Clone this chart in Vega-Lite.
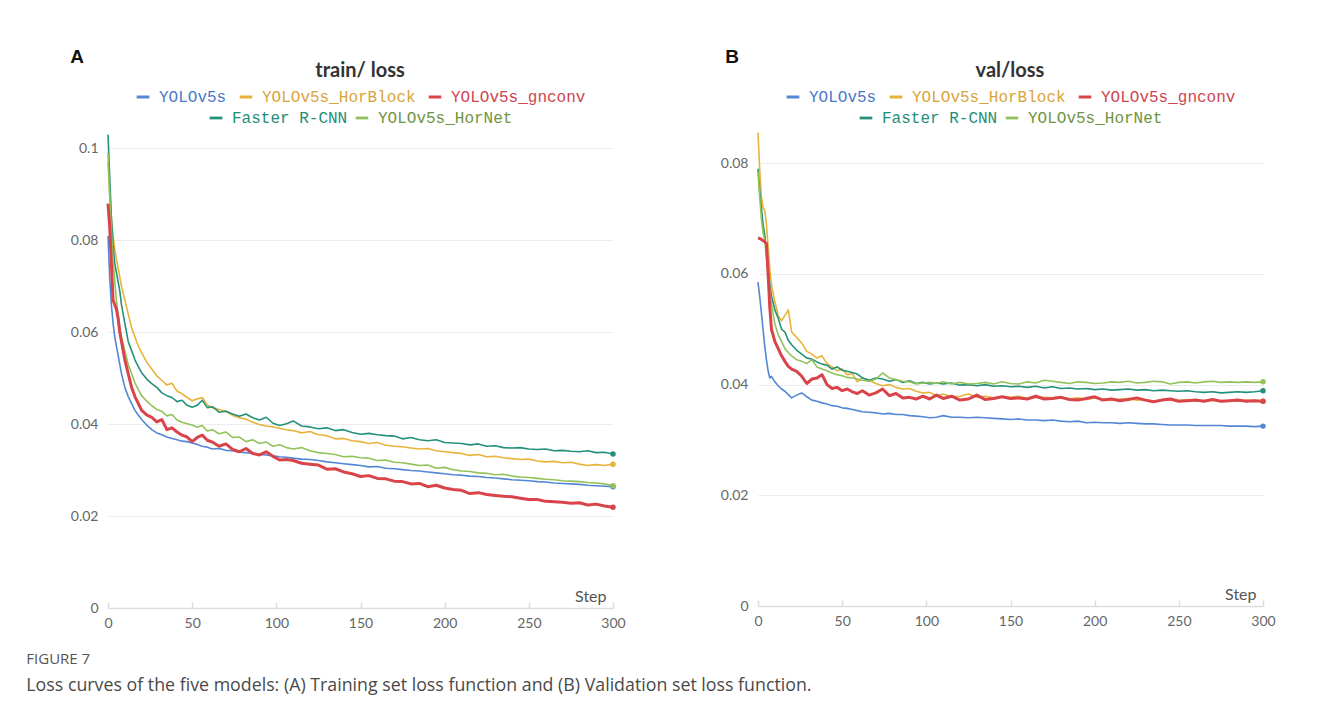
{
  "$schema": "https://vega.github.io/schema/vega-lite/v6.json",
  "background": "white",
  "padding": {"left": 26, "top": 48, "right": 5, "bottom": 5},
  "datasets": {
    "train": [
      {"step":0,"YOLOv5s":0.081,"YOLOv5s_HorBlock":0.097,"YOLOv5s_gnconv":0.088,"Faster R-CNN":0.103,"YOLOv5s_HorNet":0.099},
      {"step":1,"YOLOv5s":0.072,"YOLOv5s_HorBlock":0.09,"YOLOv5s_gnconv":0.083,"Faster R-CNN":0.094,"YOLOv5s_HorNet":0.09},
      {"step":2,"YOLOv5s":0.066,"YOLOv5s_HorBlock":0.085,"YOLOv5s_gnconv":0.075,"Faster R-CNN":0.085,"YOLOv5s_HorNet":0.082},
      {"step":3,"YOLOv5s":0.062,"YOLOv5s_HorBlock":0.081,"YOLOv5s_gnconv":0.067,"Faster R-CNN":0.079,"YOLOv5s_HorNet":0.076},
      {"step":4,"YOLOv5s":0.059,"YOLOv5s_HorBlock":0.078,"YOLOv5s_gnconv":0.066,"Faster R-CNN":0.075,"YOLOv5s_HorNet":0.071},
      {"step":5,"YOLOv5s":0.057,"YOLOv5s_HorBlock":0.076,"YOLOv5s_gnconv":0.065,"Faster R-CNN":0.073,"YOLOv5s_HorNet":0.067},
      {"step":6,"YOLOv5s":0.055,"YOLOv5s_HorBlock":0.074,"YOLOv5s_gnconv":0.063,"Faster R-CNN":0.071,"YOLOv5s_HorNet":0.064},
      {"step":7,"YOLOv5s":0.053,"YOLOv5s_HorBlock":0.072,"YOLOv5s_gnconv":0.06,"Faster R-CNN":0.069,"YOLOv5s_HorNet":0.061},
      {"step":8,"YOLOv5s":0.051,"YOLOv5s_HorBlock":0.07,"YOLOv5s_gnconv":0.058,"Faster R-CNN":0.066,"YOLOv5s_HorNet":0.059},
      {"step":10,"YOLOv5s":0.048,"YOLOv5s_HorBlock":0.067,"YOLOv5s_gnconv":0.054,"Faster R-CNN":0.062,"YOLOv5s_HorNet":0.056},
      {"step":12,"YOLOv5s":0.046,"YOLOv5s_HorBlock":0.064,"YOLOv5s_gnconv":0.051,"Faster R-CNN":0.058,"YOLOv5s_HorNet":0.053},
      {"step":14,"YOLOv5s":0.0445,"YOLOv5s_HorBlock":0.061,"YOLOv5s_gnconv":0.048,"Faster R-CNN":0.056,"YOLOv5s_HorNet":0.051},
      {"step":16,"YOLOv5s":0.043,"YOLOv5s_HorBlock":0.059,"YOLOv5s_gnconv":0.046,"Faster R-CNN":0.054,"YOLOv5s_HorNet":0.049},
      {"step":18,"YOLOv5s":0.042,"YOLOv5s_HorBlock":0.057,"YOLOv5s_gnconv":0.0445,"Faster R-CNN":0.0525,"YOLOv5s_HorNet":0.0475},
      {"step":20,"YOLOv5s":0.041,"YOLOv5s_HorBlock":0.0555,"YOLOv5s_gnconv":0.043,"Faster R-CNN":0.0512,"YOLOv5s_HorNet":0.0462},
      {"step":23,"YOLOv5s":0.0398,"YOLOv5s_HorBlock":0.0535,"YOLOv5s_gnconv":0.042,"Faster R-CNN":0.0498,"YOLOv5s_HorNet":0.045},
      {"step":26,"YOLOv5s":0.0388,"YOLOv5s_HorBlock":0.052,"YOLOv5s_gnconv":0.0415,"Faster R-CNN":0.0488,"YOLOv5s_HorNet":0.044},
      {"step":29,"YOLOv5s":0.0381,"YOLOv5s_HorBlock":0.0505,"YOLOv5s_gnconv":0.0405,"Faster R-CNN":0.048,"YOLOv5s_HorNet":0.0432},
      {"step":32,"YOLOv5s":0.0377,"YOLOv5s_HorBlock":0.0495,"YOLOv5s_gnconv":0.041,"Faster R-CNN":0.0468,"YOLOv5s_HorNet":0.0428},
      {"step":35,"YOLOv5s":0.0372,"YOLOv5s_HorBlock":0.0485,"YOLOv5s_gnconv":0.0388,"Faster R-CNN":0.0462,"YOLOv5s_HorNet":0.0418},
      {"step":38,"YOLOv5s":0.0369,"YOLOv5s_HorBlock":0.0489,"YOLOv5s_gnconv":0.0392,"Faster R-CNN":0.0458,"YOLOv5s_HorNet":0.0421},
      {"step":41,"YOLOv5s":0.0366,"YOLOv5s_HorBlock":0.0472,"YOLOv5s_gnconv":0.0383,"Faster R-CNN":0.0449,"YOLOv5s_HorNet":0.0409},
      {"step":44,"YOLOv5s":0.0363,"YOLOv5s_HorBlock":0.0466,"YOLOv5s_gnconv":0.0376,"Faster R-CNN":0.0452,"YOLOv5s_HorNet":0.0404},
      {"step":47,"YOLOv5s":0.0362,"YOLOv5s_HorBlock":0.0458,"YOLOv5s_gnconv":0.0372,"Faster R-CNN":0.0441,"YOLOv5s_HorNet":0.0401},
      {"step":50,"YOLOv5s":0.0359,"YOLOv5s_HorBlock":0.0451,"YOLOv5s_gnconv":0.0362,"Faster R-CNN":0.0437,"YOLOv5s_HorNet":0.0398},
      {"step":53,"YOLOv5s":0.0356,"YOLOv5s_HorBlock":0.0455,"YOLOv5s_gnconv":0.0371,"Faster R-CNN":0.0441,"YOLOv5s_HorNet":0.0393},
      {"step":56,"YOLOv5s":0.0352,"YOLOv5s_HorBlock":0.0458,"YOLOv5s_gnconv":0.0376,"Faster R-CNN":0.0452,"YOLOv5s_HorNet":0.0397},
      {"step":59,"YOLOv5s":0.035,"YOLOv5s_HorBlock":0.0442,"YOLOv5s_gnconv":0.0365,"Faster R-CNN":0.0436,"YOLOv5s_HorNet":0.0385},
      {"step":62,"YOLOv5s":0.0346,"YOLOv5s_HorBlock":0.0436,"YOLOv5s_gnconv":0.0361,"Faster R-CNN":0.0438,"YOLOv5s_HorNet":0.0388},
      {"step":66,"YOLOv5s":0.0347,"YOLOv5s_HorBlock":0.0432,"YOLOv5s_gnconv":0.0352,"Faster R-CNN":0.0426,"YOLOv5s_HorNet":0.0379},
      {"step":70,"YOLOv5s":0.0343,"YOLOv5s_HorBlock":0.0428,"YOLOv5s_gnconv":0.0357,"Faster R-CNN":0.0428,"YOLOv5s_HorNet":0.0383},
      {"step":74,"YOLOv5s":0.0342,"YOLOv5s_HorBlock":0.0419,"YOLOv5s_gnconv":0.0345,"Faster R-CNN":0.0422,"YOLOv5s_HorNet":0.0371},
      {"step":78,"YOLOv5s":0.0339,"YOLOv5s_HorBlock":0.0414,"YOLOv5s_gnconv":0.034,"Faster R-CNN":0.0417,"YOLOv5s_HorNet":0.0372},
      {"step":82,"YOLOv5s":0.0338,"YOLOv5s_HorBlock":0.0411,"YOLOv5s_gnconv":0.0347,"Faster R-CNN":0.0422,"YOLOv5s_HorNet":0.0362},
      {"step":86,"YOLOv5s":0.0336,"YOLOv5s_HorBlock":0.0404,"YOLOv5s_gnconv":0.0336,"Faster R-CNN":0.0414,"YOLOv5s_HorNet":0.0366},
      {"step":90,"YOLOv5s":0.0334,"YOLOv5s_HorBlock":0.0399,"YOLOv5s_gnconv":0.0333,"Faster R-CNN":0.0409,"YOLOv5s_HorNet":0.0358},
      {"step":94,"YOLOv5s":0.0333,"YOLOv5s_HorBlock":0.0396,"YOLOv5s_gnconv":0.034,"Faster R-CNN":0.0415,"YOLOv5s_HorNet":0.0361},
      {"step":98,"YOLOv5s":0.0331,"YOLOv5s_HorBlock":0.0394,"YOLOv5s_gnconv":0.033,"Faster R-CNN":0.0402,"YOLOv5s_HorNet":0.0352},
      {"step":102,"YOLOv5s":0.0329,"YOLOv5s_HorBlock":0.0391,"YOLOv5s_gnconv":0.0322,"Faster R-CNN":0.0397,"YOLOv5s_HorNet":0.0355},
      {"step":106,"YOLOv5s":0.0328,"YOLOv5s_HorBlock":0.0388,"YOLOv5s_gnconv":0.0323,"Faster R-CNN":0.0401,"YOLOv5s_HorNet":0.0349},
      {"step":110,"YOLOv5s":0.0326,"YOLOv5s_HorBlock":0.0386,"YOLOv5s_gnconv":0.0321,"Faster R-CNN":0.0407,"YOLOv5s_HorNet":0.0346},
      {"step":115,"YOLOv5s":0.0324,"YOLOv5s_HorBlock":0.0381,"YOLOv5s_gnconv":0.0315,"Faster R-CNN":0.0396,"YOLOv5s_HorNet":0.0349},
      {"step":120,"YOLOv5s":0.0323,"YOLOv5s_HorBlock":0.0384,"YOLOv5s_gnconv":0.0313,"Faster R-CNN":0.0394,"YOLOv5s_HorNet":0.0342},
      {"step":125,"YOLOv5s":0.0321,"YOLOv5s_HorBlock":0.0377,"YOLOv5s_gnconv":0.0311,"Faster R-CNN":0.039,"YOLOv5s_HorNet":0.0338},
      {"step":130,"YOLOv5s":0.0318,"YOLOv5s_HorBlock":0.0375,"YOLOv5s_gnconv":0.0302,"Faster R-CNN":0.0392,"YOLOv5s_HorNet":0.0336},
      {"step":135,"YOLOv5s":0.0316,"YOLOv5s_HorBlock":0.0368,"YOLOv5s_gnconv":0.0303,"Faster R-CNN":0.0386,"YOLOv5s_HorNet":0.0334},
      {"step":140,"YOLOv5s":0.0314,"YOLOv5s_HorBlock":0.0369,"YOLOv5s_gnconv":0.0296,"Faster R-CNN":0.0388,"YOLOv5s_HorNet":0.0329},
      {"step":145,"YOLOv5s":0.0312,"YOLOv5s_HorBlock":0.0364,"YOLOv5s_gnconv":0.0292,"Faster R-CNN":0.0382,"YOLOv5s_HorNet":0.033},
      {"step":150,"YOLOv5s":0.031,"YOLOv5s_HorBlock":0.0362,"YOLOv5s_gnconv":0.0286,"Faster R-CNN":0.0378,"YOLOv5s_HorNet":0.0327},
      {"step":155,"YOLOv5s":0.0307,"YOLOv5s_HorBlock":0.0358,"YOLOv5s_gnconv":0.0288,"Faster R-CNN":0.038,"YOLOv5s_HorNet":0.0326},
      {"step":160,"YOLOv5s":0.0308,"YOLOv5s_HorBlock":0.036,"YOLOv5s_gnconv":0.0282,"Faster R-CNN":0.0377,"YOLOv5s_HorNet":0.0321},
      {"step":165,"YOLOv5s":0.0304,"YOLOv5s_HorBlock":0.0354,"YOLOv5s_gnconv":0.0281,"Faster R-CNN":0.0375,"YOLOv5s_HorNet":0.0322},
      {"step":170,"YOLOv5s":0.0303,"YOLOv5s_HorBlock":0.0352,"YOLOv5s_gnconv":0.0276,"Faster R-CNN":0.0374,"YOLOv5s_HorNet":0.0317},
      {"step":175,"YOLOv5s":0.0301,"YOLOv5s_HorBlock":0.0351,"YOLOv5s_gnconv":0.0275,"Faster R-CNN":0.0368,"YOLOv5s_HorNet":0.0316},
      {"step":180,"YOLOv5s":0.0299,"YOLOv5s_HorBlock":0.0348,"YOLOv5s_gnconv":0.027,"Faster R-CNN":0.0371,"YOLOv5s_HorNet":0.0313},
      {"step":185,"YOLOv5s":0.0298,"YOLOv5s_HorBlock":0.0346,"YOLOv5s_gnconv":0.0271,"Faster R-CNN":0.0366,"YOLOv5s_HorNet":0.031},
      {"step":190,"YOLOv5s":0.0296,"YOLOv5s_HorBlock":0.0347,"YOLOv5s_gnconv":0.0264,"Faster R-CNN":0.0364,"YOLOv5s_HorNet":0.0311},
      {"step":195,"YOLOv5s":0.0294,"YOLOv5s_HorBlock":0.0342,"YOLOv5s_gnconv":0.0267,"Faster R-CNN":0.0366,"YOLOv5s_HorNet":0.0304},
      {"step":200,"YOLOv5s":0.0292,"YOLOv5s_HorBlock":0.034,"YOLOv5s_gnconv":0.0261,"Faster R-CNN":0.036,"YOLOv5s_HorNet":0.0306},
      {"step":205,"YOLOv5s":0.029,"YOLOv5s_HorBlock":0.0338,"YOLOv5s_gnconv":0.0258,"Faster R-CNN":0.0359,"YOLOv5s_HorNet":0.0301},
      {"step":210,"YOLOv5s":0.0289,"YOLOv5s_HorBlock":0.0336,"YOLOv5s_gnconv":0.0256,"Faster R-CNN":0.0358,"YOLOv5s_HorNet":0.0298},
      {"step":215,"YOLOv5s":0.0287,"YOLOv5s_HorBlock":0.0332,"YOLOv5s_gnconv":0.0249,"Faster R-CNN":0.0355,"YOLOv5s_HorNet":0.0297},
      {"step":220,"YOLOv5s":0.0286,"YOLOv5s_HorBlock":0.0334,"YOLOv5s_gnconv":0.0251,"Faster R-CNN":0.0357,"YOLOv5s_HorNet":0.0294},
      {"step":225,"YOLOv5s":0.0284,"YOLOv5s_HorBlock":0.0329,"YOLOv5s_gnconv":0.0247,"Faster R-CNN":0.0352,"YOLOv5s_HorNet":0.0293},
      {"step":230,"YOLOv5s":0.0283,"YOLOv5s_HorBlock":0.033,"YOLOv5s_gnconv":0.0245,"Faster R-CNN":0.0353,"YOLOv5s_HorNet":0.029},
      {"step":235,"YOLOv5s":0.0281,"YOLOv5s_HorBlock":0.0327,"YOLOv5s_gnconv":0.0243,"Faster R-CNN":0.0349,"YOLOv5s_HorNet":0.0291},
      {"step":240,"YOLOv5s":0.0279,"YOLOv5s_HorBlock":0.0325,"YOLOv5s_gnconv":0.0242,"Faster R-CNN":0.0348,"YOLOv5s_HorNet":0.0287},
      {"step":245,"YOLOv5s":0.0278,"YOLOv5s_HorBlock":0.0323,"YOLOv5s_gnconv":0.0239,"Faster R-CNN":0.0349,"YOLOv5s_HorNet":0.0285},
      {"step":250,"YOLOv5s":0.0277,"YOLOv5s_HorBlock":0.0324,"YOLOv5s_gnconv":0.0236,"Faster R-CNN":0.0346,"YOLOv5s_HorNet":0.0284},
      {"step":255,"YOLOv5s":0.0275,"YOLOv5s_HorBlock":0.032,"YOLOv5s_gnconv":0.0236,"Faster R-CNN":0.0345,"YOLOv5s_HorNet":0.0282},
      {"step":260,"YOLOv5s":0.0274,"YOLOv5s_HorBlock":0.0318,"YOLOv5s_gnconv":0.0232,"Faster R-CNN":0.0346,"YOLOv5s_HorNet":0.028},
      {"step":265,"YOLOv5s":0.0272,"YOLOv5s_HorBlock":0.0319,"YOLOv5s_gnconv":0.0231,"Faster R-CNN":0.0342,"YOLOv5s_HorNet":0.0279},
      {"step":270,"YOLOv5s":0.0271,"YOLOv5s_HorBlock":0.0316,"YOLOv5s_gnconv":0.023,"Faster R-CNN":0.0343,"YOLOv5s_HorNet":0.0277},
      {"step":275,"YOLOv5s":0.027,"YOLOv5s_HorBlock":0.0317,"YOLOv5s_gnconv":0.0228,"Faster R-CNN":0.0341,"YOLOv5s_HorNet":0.0276},
      {"step":280,"YOLOv5s":0.0269,"YOLOv5s_HorBlock":0.0313,"YOLOv5s_gnconv":0.0229,"Faster R-CNN":0.034,"YOLOv5s_HorNet":0.0275},
      {"step":285,"YOLOv5s":0.0267,"YOLOv5s_HorBlock":0.031,"YOLOv5s_gnconv":0.0224,"Faster R-CNN":0.0342,"YOLOv5s_HorNet":0.0273},
      {"step":290,"YOLOv5s":0.0266,"YOLOv5s_HorBlock":0.0312,"YOLOv5s_gnconv":0.0226,"Faster R-CNN":0.0338,"YOLOv5s_HorNet":0.0272},
      {"step":295,"YOLOv5s":0.0265,"YOLOv5s_HorBlock":0.031,"YOLOv5s_gnconv":0.0222,"Faster R-CNN":0.0339,"YOLOv5s_HorNet":0.027},
      {"step":300,"YOLOv5s":0.0264,"YOLOv5s_HorBlock":0.0313,"YOLOv5s_gnconv":0.0219,"Faster R-CNN":0.0335,"YOLOv5s_HorNet":0.0266}
    ],
    "val": [
      {"step":0,"YOLOv5s":0.0585,"YOLOv5s_HorBlock":0.0855,"YOLOv5s_gnconv":0.0665,"Faster R-CNN":0.079,"YOLOv5s_HorNet":0.0785},
      {"step":1,"YOLOv5s":0.056,"YOLOv5s_HorBlock":0.079,"YOLOv5s_gnconv":0.0664,"Faster R-CNN":0.075,"YOLOv5s_HorNet":0.074},
      {"step":2,"YOLOv5s":0.053,"YOLOv5s_HorBlock":0.074,"YOLOv5s_gnconv":0.0662,"Faster R-CNN":0.072,"YOLOv5s_HorNet":0.07},
      {"step":3,"YOLOv5s":0.05,"YOLOv5s_HorBlock":0.072,"YOLOv5s_gnconv":0.066,"Faster R-CNN":0.069,"YOLOv5s_HorNet":0.0675},
      {"step":4,"YOLOv5s":0.047,"YOLOv5s_HorBlock":0.0715,"YOLOv5s_gnconv":0.0658,"Faster R-CNN":0.067,"YOLOv5s_HorNet":0.066},
      {"step":5,"YOLOv5s":0.0445,"YOLOv5s_HorBlock":0.069,"YOLOv5s_gnconv":0.0655,"Faster R-CNN":0.064,"YOLOv5s_HorNet":0.063},
      {"step":6,"YOLOv5s":0.0425,"YOLOv5s_HorBlock":0.065,"YOLOv5s_gnconv":0.06,"Faster R-CNN":0.061,"YOLOv5s_HorNet":0.06},
      {"step":7,"YOLOv5s":0.0412,"YOLOv5s_HorBlock":0.061,"YOLOv5s_gnconv":0.054,"Faster R-CNN":0.058,"YOLOv5s_HorNet":0.057},
      {"step":8,"YOLOv5s":0.0415,"YOLOv5s_HorBlock":0.058,"YOLOv5s_gnconv":0.05,"Faster R-CNN":0.056,"YOLOv5s_HorNet":0.0545},
      {"step":10,"YOLOv5s":0.0405,"YOLOv5s_HorBlock":0.055,"YOLOv5s_gnconv":0.0478,"Faster R-CNN":0.0535,"YOLOv5s_HorNet":0.051},
      {"step":12,"YOLOv5s":0.0398,"YOLOv5s_HorBlock":0.0525,"YOLOv5s_gnconv":0.0465,"Faster R-CNN":0.052,"YOLOv5s_HorNet":0.049},
      {"step":14,"YOLOv5s":0.0392,"YOLOv5s_HorBlock":0.0515,"YOLOv5s_gnconv":0.0452,"Faster R-CNN":0.05,"YOLOv5s_HorNet":0.0478},
      {"step":16,"YOLOv5s":0.0388,"YOLOv5s_HorBlock":0.0525,"YOLOv5s_gnconv":0.0442,"Faster R-CNN":0.0495,"YOLOv5s_HorNet":0.0465},
      {"step":18,"YOLOv5s":0.0382,"YOLOv5s_HorBlock":0.0535,"YOLOv5s_gnconv":0.0433,"Faster R-CNN":0.048,"YOLOv5s_HorNet":0.0458},
      {"step":20,"YOLOv5s":0.0376,"YOLOv5s_HorBlock":0.0495,"YOLOv5s_gnconv":0.0428,"Faster R-CNN":0.0472,"YOLOv5s_HorNet":0.0452},
      {"step":23,"YOLOv5s":0.0381,"YOLOv5s_HorBlock":0.0485,"YOLOv5s_gnconv":0.0424,"Faster R-CNN":0.0462,"YOLOv5s_HorNet":0.0445},
      {"step":26,"YOLOv5s":0.0385,"YOLOv5s_HorBlock":0.0475,"YOLOv5s_gnconv":0.0415,"Faster R-CNN":0.0455,"YOLOv5s_HorNet":0.0442},
      {"step":29,"YOLOv5s":0.0378,"YOLOv5s_HorBlock":0.046,"YOLOv5s_gnconv":0.0402,"Faster R-CNN":0.0448,"YOLOv5s_HorNet":0.0438},
      {"step":32,"YOLOv5s":0.0372,"YOLOv5s_HorBlock":0.0455,"YOLOv5s_gnconv":0.041,"Faster R-CNN":0.0446,"YOLOv5s_HorNet":0.0445},
      {"step":35,"YOLOv5s":0.037,"YOLOv5s_HorBlock":0.0448,"YOLOv5s_gnconv":0.0412,"Faster R-CNN":0.0441,"YOLOv5s_HorNet":0.0432},
      {"step":38,"YOLOv5s":0.0367,"YOLOv5s_HorBlock":0.0452,"YOLOv5s_gnconv":0.0418,"Faster R-CNN":0.0437,"YOLOv5s_HorNet":0.0428},
      {"step":41,"YOLOv5s":0.0365,"YOLOv5s_HorBlock":0.0438,"YOLOv5s_gnconv":0.04,"Faster R-CNN":0.0435,"YOLOv5s_HorNet":0.0425},
      {"step":44,"YOLOv5s":0.0362,"YOLOv5s_HorBlock":0.0432,"YOLOv5s_gnconv":0.0393,"Faster R-CNN":0.0428,"YOLOv5s_HorNet":0.0421},
      {"step":47,"YOLOv5s":0.0361,"YOLOv5s_HorBlock":0.0425,"YOLOv5s_gnconv":0.0395,"Faster R-CNN":0.0432,"YOLOv5s_HorNet":0.0418},
      {"step":50,"YOLOv5s":0.0358,"YOLOv5s_HorBlock":0.0428,"YOLOv5s_gnconv":0.0389,"Faster R-CNN":0.0426,"YOLOv5s_HorNet":0.0416},
      {"step":53,"YOLOv5s":0.0357,"YOLOv5s_HorBlock":0.0418,"YOLOv5s_gnconv":0.0392,"Faster R-CNN":0.0424,"YOLOv5s_HorNet":0.0413},
      {"step":56,"YOLOv5s":0.0355,"YOLOv5s_HorBlock":0.042,"YOLOv5s_gnconv":0.0387,"Faster R-CNN":0.0422,"YOLOv5s_HorNet":0.0412},
      {"step":59,"YOLOv5s":0.0353,"YOLOv5s_HorBlock":0.0405,"YOLOv5s_gnconv":0.0384,"Faster R-CNN":0.0419,"YOLOv5s_HorNet":0.041},
      {"step":62,"YOLOv5s":0.0351,"YOLOv5s_HorBlock":0.0412,"YOLOv5s_gnconv":0.0389,"Faster R-CNN":0.0412,"YOLOv5s_HorNet":0.0408},
      {"step":66,"YOLOv5s":0.035,"YOLOv5s_HorBlock":0.0408,"YOLOv5s_gnconv":0.0381,"Faster R-CNN":0.0408,"YOLOv5s_HorNet":0.0406},
      {"step":70,"YOLOv5s":0.0349,"YOLOv5s_HorBlock":0.0402,"YOLOv5s_gnconv":0.0385,"Faster R-CNN":0.0412,"YOLOv5s_HorNet":0.041},
      {"step":74,"YOLOv5s":0.0347,"YOLOv5s_HorBlock":0.0398,"YOLOv5s_gnconv":0.0392,"Faster R-CNN":0.041,"YOLOv5s_HorNet":0.0421},
      {"step":78,"YOLOv5s":0.0348,"YOLOv5s_HorBlock":0.04,"YOLOv5s_gnconv":0.038,"Faster R-CNN":0.0406,"YOLOv5s_HorNet":0.0412},
      {"step":82,"YOLOv5s":0.0346,"YOLOv5s_HorBlock":0.0395,"YOLOv5s_gnconv":0.0384,"Faster R-CNN":0.0409,"YOLOv5s_HorNet":0.0409},
      {"step":86,"YOLOv5s":0.0346,"YOLOv5s_HorBlock":0.0392,"YOLOv5s_gnconv":0.0376,"Faster R-CNN":0.0404,"YOLOv5s_HorNet":0.0406},
      {"step":90,"YOLOv5s":0.0344,"YOLOv5s_HorBlock":0.0393,"YOLOv5s_gnconv":0.0377,"Faster R-CNN":0.0407,"YOLOv5s_HorNet":0.0405},
      {"step":94,"YOLOv5s":0.0343,"YOLOv5s_HorBlock":0.0388,"YOLOv5s_gnconv":0.0374,"Faster R-CNN":0.0402,"YOLOv5s_HorNet":0.0401},
      {"step":98,"YOLOv5s":0.0342,"YOLOv5s_HorBlock":0.0385,"YOLOv5s_gnconv":0.0379,"Faster R-CNN":0.0404,"YOLOv5s_HorNet":0.0403},
      {"step":102,"YOLOv5s":0.034,"YOLOv5s_HorBlock":0.0386,"YOLOv5s_gnconv":0.0374,"Faster R-CNN":0.0401,"YOLOv5s_HorNet":0.0404},
      {"step":106,"YOLOv5s":0.0341,"YOLOv5s_HorBlock":0.038,"YOLOv5s_gnconv":0.0381,"Faster R-CNN":0.0403,"YOLOv5s_HorNet":0.0402},
      {"step":110,"YOLOv5s":0.0344,"YOLOv5s_HorBlock":0.0383,"YOLOv5s_gnconv":0.0375,"Faster R-CNN":0.0401,"YOLOv5s_HorNet":0.0405},
      {"step":115,"YOLOv5s":0.0341,"YOLOv5s_HorBlock":0.0378,"YOLOv5s_gnconv":0.0379,"Faster R-CNN":0.0403,"YOLOv5s_HorNet":0.0401},
      {"step":120,"YOLOv5s":0.0341,"YOLOv5s_HorBlock":0.0379,"YOLOv5s_gnconv":0.0372,"Faster R-CNN":0.0399,"YOLOv5s_HorNet":0.0404},
      {"step":125,"YOLOv5s":0.034,"YOLOv5s_HorBlock":0.0383,"YOLOv5s_gnconv":0.0374,"Faster R-CNN":0.04,"YOLOv5s_HorNet":0.0401},
      {"step":130,"YOLOv5s":0.0341,"YOLOv5s_HorBlock":0.0377,"YOLOv5s_gnconv":0.0381,"Faster R-CNN":0.0398,"YOLOv5s_HorNet":0.0402},
      {"step":135,"YOLOv5s":0.034,"YOLOv5s_HorBlock":0.0379,"YOLOv5s_gnconv":0.0373,"Faster R-CNN":0.04,"YOLOv5s_HorNet":0.0404},
      {"step":140,"YOLOv5s":0.0339,"YOLOv5s_HorBlock":0.0376,"YOLOv5s_gnconv":0.0375,"Faster R-CNN":0.0397,"YOLOv5s_HorNet":0.0401},
      {"step":145,"YOLOv5s":0.0338,"YOLOv5s_HorBlock":0.0378,"YOLOv5s_gnconv":0.0378,"Faster R-CNN":0.0398,"YOLOv5s_HorNet":0.0405},
      {"step":150,"YOLOv5s":0.0337,"YOLOv5s_HorBlock":0.0377,"YOLOv5s_gnconv":0.0375,"Faster R-CNN":0.0396,"YOLOv5s_HorNet":0.0402},
      {"step":155,"YOLOv5s":0.0338,"YOLOv5s_HorBlock":0.0379,"YOLOv5s_gnconv":0.0376,"Faster R-CNN":0.0397,"YOLOv5s_HorNet":0.0401},
      {"step":160,"YOLOv5s":0.0336,"YOLOv5s_HorBlock":0.0375,"YOLOv5s_gnconv":0.0374,"Faster R-CNN":0.0395,"YOLOv5s_HorNet":0.0405},
      {"step":165,"YOLOv5s":0.0336,"YOLOv5s_HorBlock":0.0377,"YOLOv5s_gnconv":0.0379,"Faster R-CNN":0.0397,"YOLOv5s_HorNet":0.0403},
      {"step":170,"YOLOv5s":0.0335,"YOLOv5s_HorBlock":0.0377,"YOLOv5s_gnconv":0.0374,"Faster R-CNN":0.0394,"YOLOv5s_HorNet":0.0408},
      {"step":175,"YOLOv5s":0.0336,"YOLOv5s_HorBlock":0.0376,"YOLOv5s_gnconv":0.0375,"Faster R-CNN":0.0396,"YOLOv5s_HorNet":0.0406},
      {"step":180,"YOLOv5s":0.0334,"YOLOv5s_HorBlock":0.0378,"YOLOv5s_gnconv":0.0377,"Faster R-CNN":0.0393,"YOLOv5s_HorNet":0.0404},
      {"step":185,"YOLOv5s":0.0333,"YOLOv5s_HorBlock":0.0374,"YOLOv5s_gnconv":0.0373,"Faster R-CNN":0.0394,"YOLOv5s_HorNet":0.0402},
      {"step":190,"YOLOv5s":0.0334,"YOLOv5s_HorBlock":0.0376,"YOLOv5s_gnconv":0.0372,"Faster R-CNN":0.0392,"YOLOv5s_HorNet":0.0405},
      {"step":195,"YOLOv5s":0.0331,"YOLOv5s_HorBlock":0.0373,"YOLOv5s_gnconv":0.0375,"Faster R-CNN":0.0393,"YOLOv5s_HorNet":0.0404},
      {"step":200,"YOLOv5s":0.0332,"YOLOv5s_HorBlock":0.0376,"YOLOv5s_gnconv":0.0378,"Faster R-CNN":0.0391,"YOLOv5s_HorNet":0.0402},
      {"step":205,"YOLOv5s":0.0331,"YOLOv5s_HorBlock":0.0374,"YOLOv5s_gnconv":0.0372,"Faster R-CNN":0.0392,"YOLOv5s_HorNet":0.0403},
      {"step":210,"YOLOv5s":0.0331,"YOLOv5s_HorBlock":0.0372,"YOLOv5s_gnconv":0.0374,"Faster R-CNN":0.039,"YOLOv5s_HorNet":0.0405},
      {"step":215,"YOLOv5s":0.033,"YOLOv5s_HorBlock":0.0374,"YOLOv5s_gnconv":0.0371,"Faster R-CNN":0.0391,"YOLOv5s_HorNet":0.0404},
      {"step":220,"YOLOv5s":0.0331,"YOLOv5s_HorBlock":0.0375,"YOLOv5s_gnconv":0.0373,"Faster R-CNN":0.0392,"YOLOv5s_HorNet":0.0406},
      {"step":225,"YOLOv5s":0.033,"YOLOv5s_HorBlock":0.0372,"YOLOv5s_gnconv":0.0376,"Faster R-CNN":0.039,"YOLOv5s_HorNet":0.0403},
      {"step":230,"YOLOv5s":0.0329,"YOLOv5s_HorBlock":0.0373,"YOLOv5s_gnconv":0.0372,"Faster R-CNN":0.0391,"YOLOv5s_HorNet":0.0404},
      {"step":235,"YOLOv5s":0.0329,"YOLOv5s_HorBlock":0.037,"YOLOv5s_gnconv":0.0369,"Faster R-CNN":0.0389,"YOLOv5s_HorNet":0.0406},
      {"step":240,"YOLOv5s":0.0328,"YOLOv5s_HorBlock":0.0373,"YOLOv5s_gnconv":0.0372,"Faster R-CNN":0.039,"YOLOv5s_HorNet":0.0405},
      {"step":245,"YOLOv5s":0.0327,"YOLOv5s_HorBlock":0.0372,"YOLOv5s_gnconv":0.0374,"Faster R-CNN":0.0389,"YOLOv5s_HorNet":0.0401},
      {"step":250,"YOLOv5s":0.0327,"YOLOv5s_HorBlock":0.0371,"YOLOv5s_gnconv":0.037,"Faster R-CNN":0.0388,"YOLOv5s_HorNet":0.0404},
      {"step":255,"YOLOv5s":0.0327,"YOLOv5s_HorBlock":0.0373,"YOLOv5s_gnconv":0.0371,"Faster R-CNN":0.0389,"YOLOv5s_HorNet":0.0405},
      {"step":260,"YOLOv5s":0.0326,"YOLOv5s_HorBlock":0.037,"YOLOv5s_gnconv":0.0372,"Faster R-CNN":0.0387,"YOLOv5s_HorNet":0.0403},
      {"step":265,"YOLOv5s":0.0326,"YOLOv5s_HorBlock":0.0371,"YOLOv5s_gnconv":0.037,"Faster R-CNN":0.0386,"YOLOv5s_HorNet":0.0405},
      {"step":270,"YOLOv5s":0.0326,"YOLOv5s_HorBlock":0.0372,"YOLOv5s_gnconv":0.0373,"Faster R-CNN":0.0387,"YOLOv5s_HorNet":0.0406},
      {"step":275,"YOLOv5s":0.0326,"YOLOv5s_HorBlock":0.037,"YOLOv5s_gnconv":0.037,"Faster R-CNN":0.0385,"YOLOv5s_HorNet":0.0404},
      {"step":280,"YOLOv5s":0.0325,"YOLOv5s_HorBlock":0.0371,"YOLOv5s_gnconv":0.0371,"Faster R-CNN":0.0386,"YOLOv5s_HorNet":0.0405},
      {"step":285,"YOLOv5s":0.0325,"YOLOv5s_HorBlock":0.037,"YOLOv5s_gnconv":0.0372,"Faster R-CNN":0.0387,"YOLOv5s_HorNet":0.0404},
      {"step":290,"YOLOv5s":0.0325,"YOLOv5s_HorBlock":0.0372,"YOLOv5s_gnconv":0.037,"Faster R-CNN":0.0386,"YOLOv5s_HorNet":0.0405},
      {"step":295,"YOLOv5s":0.0324,"YOLOv5s_HorBlock":0.0371,"YOLOv5s_gnconv":0.0371,"Faster R-CNN":0.0387,"YOLOv5s_HorNet":0.0404},
      {"step":300,"YOLOv5s":0.0325,"YOLOv5s_HorBlock":0.037,"YOLOv5s_gnconv":0.037,"Faster R-CNN":0.0389,"YOLOv5s_HorNet":0.0405}
    ]
  },
  "title": {
    "text": "FIGURE 7",
    "subtitle": "Loss curves of the five models: (A) Training set loss function and (B) Validation set loss function.",
    "orient": "bottom",
    "anchor": "start",
    "dx": -44,
    "font": "Open Sans",
    "fontSize": 15,
    "fontWeight": "normal",
    "color": "#555555",
    "subtitleFont": "Open Sans",
    "subtitleFontSize": 17.8,
    "subtitleColor": "#4a4a4a",
    "subtitlePadding": 10,
    "offset": 22
  },
  "spacing": 94,
  "resolve": {"scale": {"color": "independent", "fill": "independent", "x": "independent", "y": "independent"}, "legend": {"color": "independent", "fill": "independent"}},
  "hconcat": [
    {
      "title": {"text": "A", "anchor": "start", "font": "Liberation Sans", "fontSize": 19, "fontWeight": "bold", "color": "#111111", "offset": -6},
      "width": 505,
      "height": 478,
      "data": {"name": "train"},
      "transform": [{"fold": ["YOLOv5s", "YOLOv5s_HorBlock", "Faster R-CNN", "YOLOv5s_HorNet", "YOLOv5s_gnconv"], "as": ["model", "loss"]}],
      "encoding": {
        "x": {"field": "step", "type": "quantitative", "scale": {"domain": [0, 300], "nice": false}, "axis": {"values": [0, 50, 100, 150, 200, 250, 300], "title": "Step"}},
        "y": {"field": "loss", "type": "quantitative", "scale": {"domain": [0, 0.104], "nice": false}, "axis": {"values": [0, 0.02, 0.04, 0.06, 0.08, 0.1], "format": "~g", "title": null}}
      },
      "layer": [
        {
          "mark": {"type": "line", "strokeJoin": "round"},
          "encoding": {
            "color": {"field": "model", "type": "nominal",
              "scale": {"domain": ["YOLOv5s", "YOLOv5s_HorBlock", "YOLOv5s_gnconv", "Faster R-CNN", "YOLOv5s_HorNet"], "range": ["#5387d6", "#e8b33a", "#d9434a", "#23917a", "#93c25a"]},
              "legend": {"title": "train/ loss", "values": ["YOLOv5s", "YOLOv5s_HorBlock", "YOLOv5s_gnconv"], "symbolType": "stroke", "symbolSize": 160, "symbolStrokeWidth": 3,
                "labelColor": {"expr": "datum.label == 'YOLOv5s' ? '#4a78c8' : datum.label == 'YOLOv5s_HorBlock' ? '#d9a43a' : datum.label == 'YOLOv5s_gnconv' ? '#cf4450' : datum.label == 'Faster R-CNN' ? '#228e78' : '#6f9440'"}}},
            "strokeWidth": {"condition": {"test": "datum.model === 'YOLOv5s_gnconv'", "value": 3}, "value": 1.6}
          }
        },
        {
          "transform": [{"filter": "datum.step === 300"}],
          "mark": {"type": "circle", "size": 30, "opacity": 1},
          "encoding": {"color": {"field": "model", "type": "nominal", "legend": null}}
        },
        {
          "transform": [{"filter": {"field": "model", "oneOf": ["Faster R-CNN", "YOLOv5s_HorNet"]}}, {"filter": "datum.step === 0"}],
          "mark": {"type": "point", "filled": true, "opacity": 0},
          "encoding": {"fill": {"field": "model", "type": "nominal",
            "scale": {"domain": ["Faster R-CNN", "YOLOv5s_HorNet"], "range": ["#23917a", "#93c25a"]},
            "legend": {"title": null, "symbolType": "M-1,-0.22H1V0.22H-1Z", "symbolSize": 160, "symbolStrokeWidth": 0, "symbolOpacity": 1,
              "labelColor": {"expr": "datum.label == 'Faster R-CNN' ? '#228e78' : '#6f9440'"}}}}
        }
      ]
    },
    {
      "title": {"text": "B", "anchor": "start", "font": "Liberation Sans", "fontSize": 19, "fontWeight": "bold", "color": "#111111", "offset": -6, "dx": 5},
      "width": 505,
      "height": 476,
      "data": {"name": "val"},
      "transform": [{"fold": ["YOLOv5s", "YOLOv5s_HorBlock", "Faster R-CNN", "YOLOv5s_HorNet", "YOLOv5s_gnconv"], "as": ["model", "loss"]}],
      "encoding": {
        "x": {"field": "step", "type": "quantitative", "scale": {"domain": [0, 300], "nice": false}, "axis": {"values": [0, 50, 100, 150, 200, 250, 300], "title": "Step"}},
        "y": {"field": "loss", "type": "quantitative", "scale": {"domain": [0, 0.086], "nice": false}, "axis": {"values": [0, 0.02, 0.04, 0.06, 0.08], "format": "~g", "title": null}}
      },
      "layer": [
        {
          "mark": {"type": "line", "strokeJoin": "round"},
          "encoding": {
            "color": {"field": "model", "type": "nominal",
              "scale": {"domain": ["YOLOv5s", "YOLOv5s_HorBlock", "YOLOv5s_gnconv", "Faster R-CNN", "YOLOv5s_HorNet"], "range": ["#5387d6", "#e8b33a", "#d9434a", "#23917a", "#93c25a"]},
              "legend": {"title": "val/loss", "values": ["YOLOv5s", "YOLOv5s_HorBlock", "YOLOv5s_gnconv"], "symbolType": "stroke", "symbolSize": 160, "symbolStrokeWidth": 3,
                "labelColor": {"expr": "datum.label == 'YOLOv5s' ? '#4a78c8' : datum.label == 'YOLOv5s_HorBlock' ? '#d9a43a' : datum.label == 'YOLOv5s_gnconv' ? '#cf4450' : datum.label == 'Faster R-CNN' ? '#228e78' : '#6f9440'"}}},
            "strokeWidth": {"condition": {"test": "datum.model === 'YOLOv5s_gnconv'", "value": 3}, "value": 1.6}
          }
        },
        {
          "transform": [{"filter": "datum.step === 300"}],
          "mark": {"type": "circle", "size": 30, "opacity": 1},
          "encoding": {"color": {"field": "model", "type": "nominal", "legend": null}}
        },
        {
          "transform": [{"filter": {"field": "model", "oneOf": ["Faster R-CNN", "YOLOv5s_HorNet"]}}, {"filter": "datum.step === 0"}],
          "mark": {"type": "point", "filled": true, "opacity": 0},
          "encoding": {"fill": {"field": "model", "type": "nominal",
            "scale": {"domain": ["Faster R-CNN", "YOLOv5s_HorNet"], "range": ["#23917a", "#93c25a"]},
            "legend": {"title": null, "symbolType": "M-1,-0.22H1V0.22H-1Z", "symbolSize": 160, "symbolStrokeWidth": 0, "symbolOpacity": 1,
              "labelColor": {"expr": "datum.label == 'Faster R-CNN' ? '#228e78' : '#6f9440'"}}}}
        }
      ]
    }
  ],
  "config": {
    "view": {"stroke": null},
    "font": "Lato",
    "axisX": {"grid": false, "domainColor": "#dddddd", "domainWidth": 1.5, "tickColor": "#dddddd", "tickWidth": 1.5, "tickSize": -6, "labelColor": "#666666", "labelFontSize": 14, "labelFont": "Lato", "labelPadding": 14, "labelFlush": false,
      "titleFont": "Lato", "titleFontSize": 16, "titleFontWeight": "normal", "titleColor": "#555555", "titleAnchor": "end", "titleAlign": "right", "titleBaseline": "bottom", "titleY": -4, "titleX": 498},
    "axisY": {"grid": true, "gridColor": "#ececec", "domain": false, "ticks": false, "labelColor": "#666666", "labelFontSize": 14, "labelFont": "Lato", "labelPadding": 10},
    "legend": {"orient": "top", "direction": "horizontal", "labelFont": "Liberation Mono", "labelFontSize": 16, "columnPadding": 6, "labelOffset": 8,
      "titleAnchor": "middle", "titleFont": "Lato", "titleFontSize": 20, "titleFontWeight": "bold", "titleColor": "#333333", "titlePadding": 8, "offset": 4,
      "layout": {"top": {"anchor": "middle", "direction": "vertical", "center": true, "margin": 5}}}
  }
}
